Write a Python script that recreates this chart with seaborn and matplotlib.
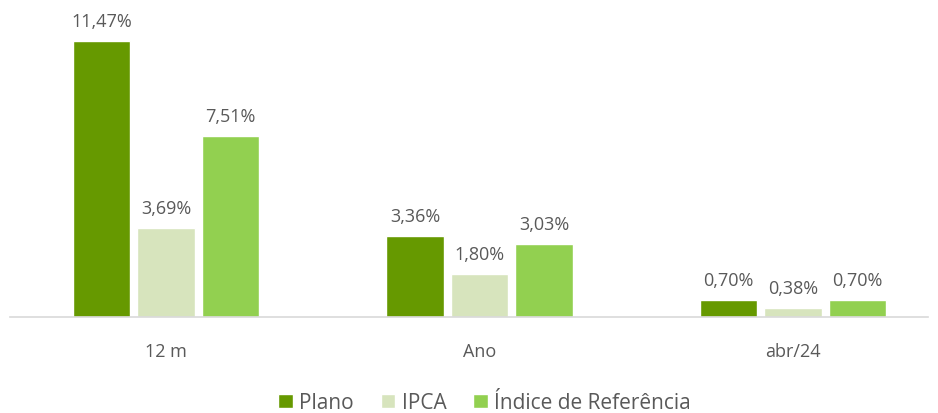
import matplotlib
matplotlib.use("Agg")
import matplotlib.pyplot as plt
import seaborn as sns
import pandas as pd

categories = ["12 m", "Ano", "abr/24"]
series = ["Plano", "IPCA", "Índice de Referência"]
plano = [11.47, 3.36, 0.70]
ipca = [3.69, 1.80, 0.38]
referencia = [7.51, 3.03, 0.70]
colors = ["#669900", "#D7E4BD", "#92D050"]

df = pd.DataFrame({
    "Periodo": categories * 3,
    "Serie": [s for s in series for _ in categories],
    "Valor": plano + ipca + referencia,
})

sns.set_style("white")
plt.rcParams["font.family"] = ["Open Sans", "DejaVu Sans"]
text_color = "#595959"

fig = plt.figure(figsize=(9.38, 4.14), dpi=100)
ax = fig.add_axes([10 / 938, 96 / 414, 918 / 938, 318 / 414])
sns.barplot(data=df, x="Periodo", y="Valor", hue="Serie", order=categories,
            hue_order=series, palette=colors, width=0.617, gap=0.11,
            saturation=1, ax=ax, legend=True)

for container in ax.containers:
    labels = [f"{v:.2f}%".replace(".", ",") for v in container.datavalues]
    ax.bar_label(container, labels=labels, padding=8, fontsize=13, color=text_color)

# group spacing ~313.5 px, first group centred at x=166
ax.set_ylim(0, 318 / 24.06)
ax.set_xlim(-(166 - 10) / 313.5, 2 + (928 - 793) / 313.5)
ax.set_yticks([])
ax.set_xlabel("")
ax.set_ylabel("")
for side in ["top", "left", "right"]:
    ax.spines[side].set_visible(False)
ax.spines["bottom"].set_color("#D9D9D9")
ax.spines["bottom"].set_linewidth(1.2)
ax.tick_params(axis="x", length=0, labelsize=13, labelcolor=text_color, pad=18)

ax.legend(loc="center", bbox_to_anchor=(0.517, -0.27), ncol=3, frameon=False,
          fontsize=15, labelcolor=text_color, handlelength=0.7, handleheight=0.7,
          handletextpad=0.3, columnspacing=1.3)

fig.savefig("out.png", dpi=100)
